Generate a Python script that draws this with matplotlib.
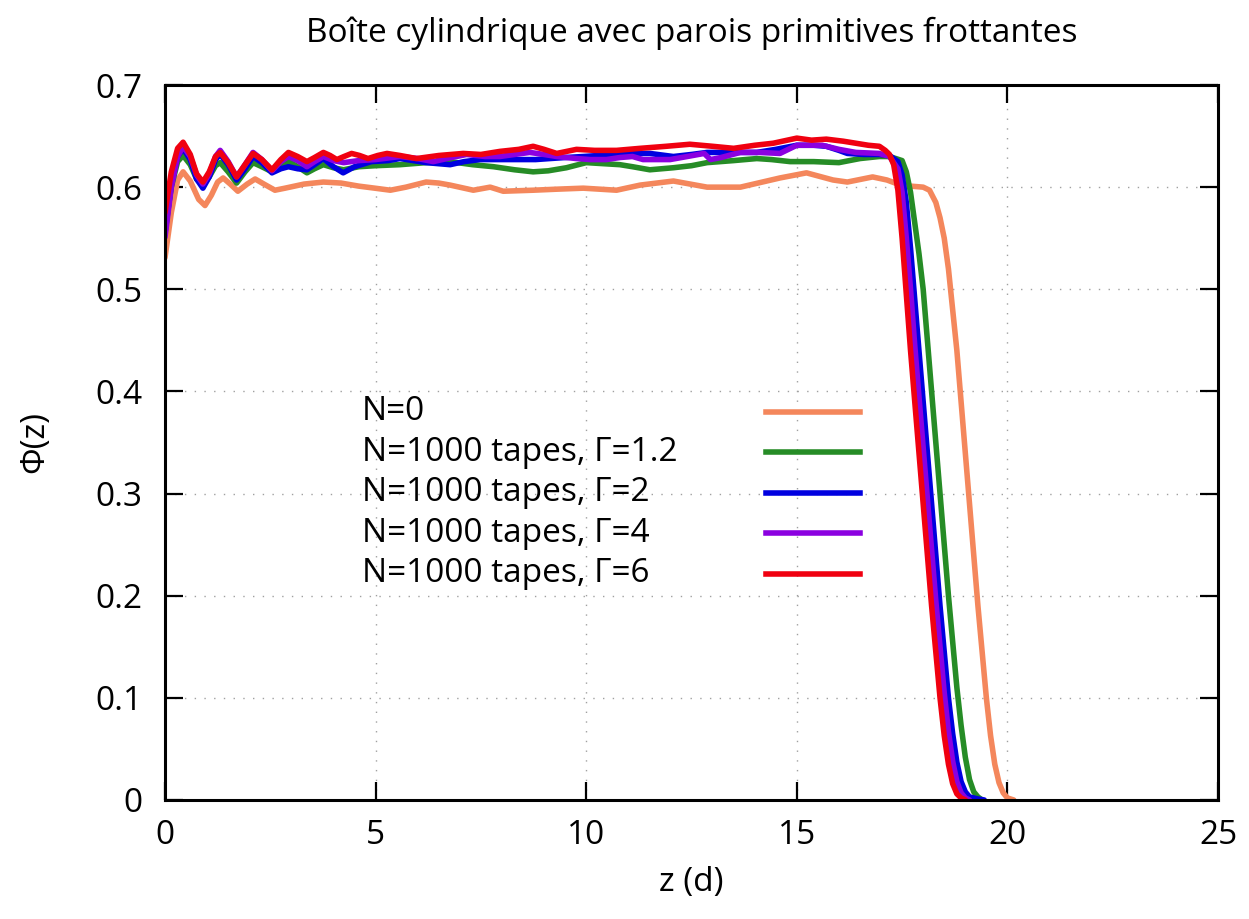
import matplotlib
matplotlib.use("Agg")
import matplotlib.pyplot as plt

plt.rcParams['font.family'] = ['Open Sans', 'DejaVu Sans']

# profils de compacité Phi(z) pour chaque configuration
z_n0 = [0.0, 0.15, 0.3, 0.43, 0.6, 0.8, 0.95, 1.1, 1.25, 1.38, 1.55, 1.73, 1.95, 2.14, 2.35, 2.61,
        2.85, 3.3, 3.76, 4.18, 4.6, 4.98, 5.35, 5.72, 6.2, 6.5, 6.77, 7.32, 7.72, 8.03, 8.74, 9.3,
        9.93, 10.72, 11.28, 12.07, 12.87, 13.66, 14.6, 15.23, 15.86, 16.2, 16.8, 17.14, 17.4, 17.7,
        18.0, 18.15, 18.3, 18.4, 18.5, 18.6, 18.7, 18.8, 18.9, 19.0, 19.1, 19.2, 19.3, 19.4, 19.5,
        19.6, 19.7, 19.8, 19.9, 20.0, 20.15]
phi_n0 = [0.531, 0.575, 0.607, 0.615, 0.606, 0.588, 0.582, 0.592, 0.605, 0.609, 0.603, 0.596, 0.603,
          0.608, 0.603, 0.597, 0.599, 0.603, 0.605, 0.604, 0.601, 0.599, 0.597, 0.600, 0.605, 0.604,
          0.602, 0.597, 0.600, 0.596, 0.597, 0.598, 0.599, 0.597, 0.602, 0.606, 0.600, 0.600, 0.609,
          0.614, 0.607, 0.605, 0.610, 0.607, 0.603, 0.601, 0.600, 0.597, 0.585, 0.570, 0.550, 0.520,
          0.480, 0.440, 0.390, 0.340, 0.290, 0.240, 0.190, 0.145, 0.100, 0.063, 0.035, 0.017, 0.007,
          0.002, 0.0]

z_g12 = [0.0, 0.15, 0.3, 0.43, 0.6, 0.75, 0.9, 1.05, 1.2, 1.31, 1.5, 1.7, 1.9, 2.09, 2.3, 2.54, 2.75,
         2.95, 3.15, 3.37, 3.55, 3.76, 4.0, 4.24, 4.6, 5.0, 5.58, 6.2, 6.77, 7.3, 7.8, 8.3, 8.74, 9.1,
         9.53, 10.0, 10.4, 10.8, 11.1, 11.51, 12.07, 12.5, 12.87, 13.5, 14.05, 14.4, 14.84, 15.4,
         16.0, 16.5, 16.96, 17.2, 17.5, 17.6, 17.7, 17.8, 17.9, 18.0, 18.1, 18.2, 18.3, 18.4, 18.5,
         18.6, 18.7, 18.8, 18.9, 19.0, 19.1, 19.2, 19.3, 19.4]
phi_g12 = [0.560, 0.600, 0.625, 0.631, 0.622, 0.608, 0.602, 0.610, 0.621, 0.624, 0.615, 0.604, 0.615,
           0.624, 0.620, 0.615, 0.620, 0.625, 0.620, 0.614, 0.618, 0.622, 0.619, 0.617, 0.620, 0.621,
           0.622, 0.624, 0.625, 0.622, 0.620, 0.617, 0.615, 0.616, 0.619, 0.624, 0.623, 0.622, 0.620,
           0.617, 0.619, 0.621, 0.624, 0.626, 0.628, 0.627, 0.625, 0.625, 0.624, 0.628, 0.630, 0.630,
           0.626, 0.615, 0.595, 0.565, 0.535, 0.500, 0.450, 0.400, 0.350, 0.300, 0.250, 0.200, 0.155,
           0.110, 0.073, 0.042, 0.020, 0.008, 0.003, 0.0]

z_g2 = [0.0, 0.15, 0.3, 0.43, 0.6, 0.75, 0.9, 1.05, 1.2, 1.31, 1.5, 1.7, 1.9, 2.09, 2.3, 2.54, 2.75,
        2.93, 3.15, 3.37, 3.55, 3.76, 4.0, 4.23, 4.5, 4.9, 5.3, 5.58, 6.2, 6.77, 7.1, 7.48, 8.0, 8.35,
        8.8, 9.14, 9.5, 9.93, 10.3, 10.72, 11.1, 11.51, 12.07, 12.5, 12.87, 13.5, 14.05, 14.5, 15.0,
        15.4, 15.7, 16.0, 16.2, 16.6, 16.96, 17.2, 17.4, 17.5, 17.6, 17.7, 17.8, 17.9, 18.0, 18.1,
        18.2, 18.3, 18.4, 18.5, 18.6, 18.7, 18.8, 18.9, 19.0, 19.1, 19.3, 19.45]
phi_g2 = [0.555, 0.602, 0.630, 0.638, 0.627, 0.608, 0.599, 0.610, 0.627, 0.632, 0.622, 0.607, 0.618,
          0.630, 0.624, 0.614, 0.618, 0.620, 0.618, 0.617, 0.622, 0.628, 0.620, 0.614, 0.620, 0.625,
          0.626, 0.628, 0.624, 0.622, 0.625, 0.627, 0.627, 0.627, 0.627, 0.628, 0.629, 0.630, 0.631,
          0.632, 0.633, 0.633, 0.630, 0.632, 0.634, 0.634, 0.634, 0.637, 0.641, 0.641, 0.640, 0.636,
          0.633, 0.632, 0.632, 0.631, 0.625, 0.612, 0.585, 0.540, 0.490, 0.440, 0.390, 0.340, 0.290,
          0.240, 0.190, 0.145, 0.100, 0.065, 0.037, 0.018, 0.008, 0.003, 0.001, 0.0]

z_g4 = [0.0, 0.15, 0.3, 0.43, 0.6, 0.75, 0.9, 1.05, 1.2, 1.31, 1.5, 1.7, 1.9, 2.09, 2.3, 2.54, 2.75,
        2.93, 3.15, 3.37, 3.55, 3.76, 4.0, 4.24, 4.6, 5.0, 5.58, 6.0, 6.37, 6.8, 7.16, 7.6, 7.95, 8.3,
        8.66, 9.0, 9.3, 9.77, 10.1, 10.48, 10.8, 11.1, 11.35, 11.6, 11.99, 12.4, 12.8, 12.95, 13.2,
        13.66, 14.1, 14.6, 15.0, 15.6, 16.0, 16.4, 16.96, 17.2, 17.4, 17.5, 17.6, 17.7, 17.8, 17.9,
        18.0, 18.1, 18.2, 18.3, 18.4, 18.5, 18.6, 18.7, 18.8, 18.9, 19.0, 19.1]
phi_g4 = [0.551, 0.600, 0.630, 0.640, 0.630, 0.612, 0.603, 0.613, 0.630, 0.636, 0.625, 0.610, 0.622,
          0.634, 0.627, 0.616, 0.625, 0.630, 0.626, 0.620, 0.625, 0.630, 0.626, 0.624, 0.626, 0.627,
          0.630, 0.628, 0.625, 0.629, 0.632, 0.630, 0.630, 0.632, 0.634, 0.632, 0.630, 0.628, 0.627,
          0.627, 0.629, 0.630, 0.627, 0.627, 0.627, 0.630, 0.633, 0.627, 0.629, 0.634, 0.634, 0.633,
          0.641, 0.641, 0.637, 0.634, 0.633, 0.630, 0.618, 0.595, 0.550, 0.500, 0.445, 0.395, 0.345,
          0.295, 0.245, 0.195, 0.150, 0.105, 0.067, 0.038, 0.018, 0.007, 0.002, 0.0]

z_g6 = [0.0, 0.15, 0.3, 0.43, 0.6, 0.75, 0.9, 1.05, 1.2, 1.31, 1.5, 1.7, 1.9, 2.09, 2.3, 2.54, 2.75,
        2.93, 3.15, 3.37, 3.55, 3.76, 3.92, 4.08, 4.25, 4.43, 4.62, 4.82, 5.05, 5.27, 5.58, 5.97, 6.5,
        7.08, 7.5, 7.95, 8.4, 8.74, 9.0, 9.3, 9.77, 10.2, 10.72, 11.28, 11.9, 12.46, 13.0, 13.5, 14.0,
        14.44, 15.0, 15.35, 15.7, 16.1, 16.4, 16.7, 16.96, 17.1, 17.2, 17.3, 17.4, 17.5, 17.6, 17.7,
        17.8, 17.9, 18.0, 18.1, 18.2, 18.3, 18.4, 18.5, 18.6, 18.7, 18.8, 18.9, 19.0]
phi_g6 = [0.575, 0.615, 0.638, 0.644, 0.632, 0.613, 0.605, 0.615, 0.630, 0.634, 0.624, 0.610, 0.622,
          0.633, 0.627, 0.617, 0.627, 0.634, 0.630, 0.625, 0.629, 0.634, 0.631, 0.627, 0.630, 0.633,
          0.631, 0.628, 0.631, 0.633, 0.631, 0.628, 0.631, 0.633, 0.632, 0.635, 0.637, 0.640, 0.637,
          0.633, 0.637, 0.636, 0.636, 0.638, 0.640, 0.642, 0.640, 0.638, 0.641, 0.643, 0.648, 0.646,
          0.647, 0.645, 0.643, 0.641, 0.640, 0.636, 0.632, 0.622, 0.597, 0.550, 0.495, 0.440, 0.390,
          0.340, 0.290, 0.240, 0.190, 0.145, 0.100, 0.063, 0.035, 0.016, 0.006, 0.002, 0.0]

labels = ["N=0", "N=1000 tapes, Γ=1.2", "N=1000 tapes, Γ=2",
          "N=1000 tapes, Γ=4", "N=1000 tapes, Γ=6"]
colors = ["#F4875C", "#268C26", "#0000E0", "#8B00E0", "#F00010"]

series = [(z_n0, phi_n0), (z_g12, phi_g12), (z_g2, phi_g2), (z_g4, phi_g4), (z_g6, phi_g6)]

fig = plt.figure(figsize=(12.49, 9.19), dpi=100)
ax = fig.add_axes([0.1321, 0.1295, 0.8431, 0.778])

for (z, phi), c in zip(series, colors):
    ax.plot(z, phi, color=c, lw=4.0, solid_joinstyle='round', solid_capstyle='round')

ax.set_xlim(0, 25)
ax.set_ylim(0, 0.7)
ax.set_xticks([0, 5, 10, 15, 20, 25])
ax.set_xticklabels(["0", "5", "10", "15", "20", "25"])
ax.set_yticks([0, 0.1, 0.2, 0.3, 0.4, 0.5, 0.6, 0.7])
ax.set_yticklabels(["0", "0.1", "0.2", "0.3", "0.4", "0.5", "0.6", "0.7"])
ax.grid(True, color='#a0a0a0', linestyle=(0, (1, 6)), linewidth=1.0)
ax.tick_params(direction='in', length=13, width=1.6, top=True, right=True, labelsize=24)
ax.tick_params(axis='x', pad=14)
ax.tick_params(axis='y', pad=16)
for sp in ax.spines.values():
    sp.set_linewidth(2.2)

ax.set_title("Boîte cylindrique avec parois primitives frottantes", fontsize=24, pad=31)
ax.set_xlabel("z (d)", fontsize=24, labelpad=10)
ax.set_ylabel("Φ(z)", fontsize=24, labelpad=32)

# légende à la gnuplot : texte à gauche, échantillon de trait à droite
y0 = 0.5427
dy = 0.0566
for i, (lab, c) in enumerate(zip(labels, colors)):
    y = y0 - i * dy
    ax.text(0.187, y, lab, transform=ax.transAxes, fontsize=24, va='center', ha='left')
    ax.plot([0.5707, 0.66], [y, y], transform=ax.transAxes, color=c, lw=4.0)

fig.savefig("out.png", dpi=100)
